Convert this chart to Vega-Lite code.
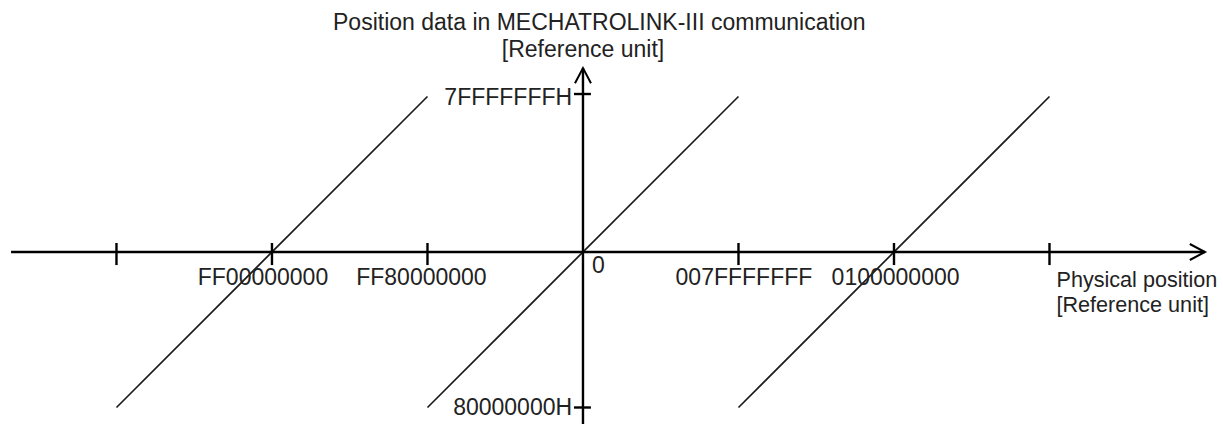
{
  "$schema": "https://vega.github.io/schema/vega-lite/v6.json",
  "width": 1223,
  "height": 424,
  "autosize": {"type": "none"},
  "padding": 0,
  "background": "white",
  "config": {"view": {"stroke": null}},
  "datasets": {
    "segments": [
      {"kind": "axis", "x": -3.678, "y": 0, "x2": 4.0, "y2": 0},
      {"kind": "axis", "x": 0, "y": -1.12, "x2": 0, "y2": 1.183},
      {"kind": "tick", "x": -3, "y": 0.058, "x2": -3, "y2": -0.084},
      {"kind": "tick", "x": -2, "y": 0.058, "x2": -2, "y2": -0.084},
      {"kind": "tick", "x": -1, "y": 0.058, "x2": -1, "y2": -0.084},
      {"kind": "tick", "x": 1, "y": 0.058, "x2": 1, "y2": -0.084},
      {"kind": "tick", "x": 2, "y": 0.058, "x2": 2, "y2": -0.084},
      {"kind": "tick", "x": 3, "y": 0.058, "x2": 3, "y2": -0.084},
      {"kind": "tick", "x": -0.058, "y": 1.016, "x2": 0.051, "y2": 1.016},
      {"kind": "tick", "x": -0.058, "y": -1.0, "x2": 0.051, "y2": -1.0},
      {"kind": "diag", "x": -3, "y": -1, "x2": -1, "y2": 1},
      {"kind": "diag", "x": -1, "y": -1, "x2": 1, "y2": 1},
      {"kind": "diag", "x": 1, "y": -1, "x2": 3, "y2": 1}
    ],
    "arrows": [
      {"dir": "right", "x": 4.0, "y": 0},
      {"dir": "up", "x": 0, "y": 1.183}
    ],
    "labels": [
      {"align": "center", "x": 0.105, "y": 1.4277, "text": "Position data in MECHATROLINK-III communication"},
      {"align": "center", "x": 0, "y": 1.254, "text": "[Reference unit]"},
      {"align": "center", "x": -2.058, "y": -0.212, "text": "FF00000000"},
      {"align": "center", "x": -1.039, "y": -0.212, "text": "FF80000000"},
      {"align": "center", "x": 1.035, "y": -0.212, "text": "007FFFFFFF"},
      {"align": "center", "x": 2.01, "y": -0.212, "text": "0100000000"},
      {"align": "left", "x": 0.058, "y": -0.135, "text": "0"},
      {"align": "left", "x": 3.045, "y": -0.225, "text": "Physical position"},
      {"align": "left", "x": 3.045, "y": -0.386, "text": "[Reference unit]"},
      {"align": "right", "x": -0.07, "y": 0.945, "text": "7FFFFFFFH"},
      {"align": "right", "x": -0.07, "y": -1.048, "text": "80000000H"}
    ]
  },
  "layer": [
    {
      "data": {"name": "segments"},
      "transform": [{"filter": "datum.kind === 'diag'"}],
      "mark": {"type": "rule", "color": "#1a1a1a", "strokeWidth": 1.7},
      "encoding": {
        "x": {"field": "x", "type": "quantitative", "scale": {"domain": [-3.749, 4.1158], "nice": false, "zero": false}, "axis": null},
        "y": {"field": "y", "type": "quantitative", "scale": {"domain": [-1.1061, 1.6206], "nice": false, "zero": false}, "axis": null},
        "x2": {"field": "x2"},
        "y2": {"field": "y2"}
      }
    },
    {
      "data": {"name": "segments"},
      "transform": [{"filter": "datum.kind !== 'diag'"}],
      "mark": {"type": "rule", "color": "#000000", "strokeWidth": 2.4},
      "encoding": {
        "x": {"field": "x", "type": "quantitative", "scale": {"domain": [-3.749, 4.1158], "nice": false, "zero": false}, "axis": null},
        "y": {"field": "y", "type": "quantitative", "scale": {"domain": [-1.1061, 1.6206], "nice": false, "zero": false}, "axis": null},
        "x2": {"field": "x2"},
        "y2": {"field": "y2"}
      }
    },
    {
      "data": {"name": "arrows"},
      "transform": [{"filter": "datum.dir === 'right'"}],
      "mark": {"type": "point", "shape": "M-1.9,-1L0,0L-1.9,1", "size": 256, "filled": false, "stroke": "#000000", "strokeWidth": 2, "opacity": 1},
      "encoding": {
        "x": {"field": "x", "type": "quantitative", "scale": {"domain": [-3.749, 4.1158], "nice": false, "zero": false}, "axis": null},
        "y": {"field": "y", "type": "quantitative", "scale": {"domain": [-1.1061, 1.6206], "nice": false, "zero": false}, "axis": null}
      }
    },
    {
      "data": {"name": "arrows"},
      "transform": [{"filter": "datum.dir === 'up'"}],
      "mark": {"type": "point", "shape": "M-1,1.9L0,0L1,1.9", "size": 256, "filled": false, "stroke": "#000000", "strokeWidth": 2, "opacity": 1},
      "encoding": {
        "x": {"field": "x", "type": "quantitative", "scale": {"domain": [-3.749, 4.1158], "nice": false, "zero": false}, "axis": null},
        "y": {"field": "y", "type": "quantitative", "scale": {"domain": [-1.1061, 1.6206], "nice": false, "zero": false}, "axis": null}
      }
    },
    {
      "data": {"name": "labels"},
      "transform": [{"filter": "datum.align === 'center'"}],
      "mark": {"type": "text", "align": "center", "baseline": "alphabetic", "font": "Liberation Sans", "fontSize": 23, "color": "#222222"},
      "encoding": {
        "x": {"field": "x", "type": "quantitative", "scale": {"domain": [-3.749, 4.1158], "nice": false, "zero": false}, "axis": null},
        "y": {"field": "y", "type": "quantitative", "scale": {"domain": [-1.1061, 1.6206], "nice": false, "zero": false}, "axis": null},
        "text": {"field": "text"}
      }
    },
    {
      "data": {"name": "labels"},
      "transform": [{"filter": "datum.align === 'left' && datum.x < 1"}],
      "mark": {"type": "text", "align": "left", "baseline": "alphabetic", "font": "Liberation Sans", "fontSize": 23, "color": "#222222"},
      "encoding": {
        "x": {"field": "x", "type": "quantitative", "scale": {"domain": [-3.749, 4.1158], "nice": false, "zero": false}, "axis": null},
        "y": {"field": "y", "type": "quantitative", "scale": {"domain": [-1.1061, 1.6206], "nice": false, "zero": false}, "axis": null},
        "text": {"field": "text"}
      }
    },
    {
      "data": {"name": "labels"},
      "transform": [{"filter": "datum.align === 'left' && datum.x > 1"}],
      "mark": {"type": "text", "align": "left", "baseline": "alphabetic", "font": "Liberation Sans", "fontSize": 21.6, "color": "#222222"},
      "encoding": {
        "x": {"field": "x", "type": "quantitative", "scale": {"domain": [-3.749, 4.1158], "nice": false, "zero": false}, "axis": null},
        "y": {"field": "y", "type": "quantitative", "scale": {"domain": [-1.1061, 1.6206], "nice": false, "zero": false}, "axis": null},
        "text": {"field": "text"}
      }
    },
    {
      "data": {"name": "labels"},
      "transform": [{"filter": "datum.align === 'right'"}],
      "mark": {"type": "text", "align": "right", "baseline": "alphabetic", "font": "Liberation Sans", "fontSize": 23, "color": "#222222"},
      "encoding": {
        "x": {"field": "x", "type": "quantitative", "scale": {"domain": [-3.749, 4.1158], "nice": false, "zero": false}, "axis": null},
        "y": {"field": "y", "type": "quantitative", "scale": {"domain": [-1.1061, 1.6206], "nice": false, "zero": false}, "axis": null},
        "text": {"field": "text"}
      }
    }
  ]
}
